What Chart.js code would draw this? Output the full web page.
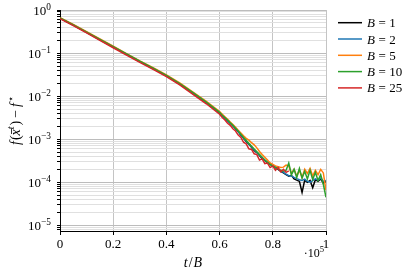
<!DOCTYPE html>
<html>
<head>
<meta charset="utf-8">
<script src="https://cdn.jsdelivr.net/npm/chart.js@4.4.0/dist/chart.umd.min.js"></script>
<style>
  html, body { margin: 0; padding: 0; background: #fff; }
  #c { display: block; }
</style>
</head>
<body>
<canvas id="c" width="415" height="275"></canvas>
<script>
// t/B in units of 1e5 (axis shows the x10^5 factor separately)
const tHead = [0, 0.05, 0.1, 0.15, 0.2, 0.25, 0.3, 0.35, 0.4, 0.45, 0.5, 0.55, 0.6];
const tTail = [0.61, 0.62, 0.63, 0.64, 0.65, 0.66, 0.67, 0.68, 0.69, 0.70,
               0.71, 0.72, 0.73, 0.74, 0.75, 0.76, 0.77, 0.78, 0.79, 0.80,
               0.81, 0.82, 0.83, 0.84, 0.85, 0.86, 0.87, 0.88, 0.89, 0.90,
               0.91, 0.92, 0.93, 0.94, 0.95, 0.96, 0.97, 0.98, 0.99, 1.00];

const batchSizes = [1, 2, 5, 10, 25];
const colors = ['#000000', '#1f77b4', '#ff7f0e', '#2ca02c', '#d62728'];

// f(x_t) - f*, smooth part
const b1Head  = [0.645, 0.445, 0.302, 0.204, 0.138, 0.0935, 0.0631, 0.0436, 0.0295, 0.0191, 0.0117, 0.00708, 0.00407];
const b2Head  = [0.648, 0.448, 0.304, 0.206, 0.140, 0.0945, 0.0638, 0.0441, 0.0299, 0.0194, 0.0119, 0.00720, 0.00412];
const b5Head  = [0.665, 0.460, 0.313, 0.212, 0.144, 0.0975, 0.0660, 0.0457, 0.0311, 0.0202, 0.0124, 0.00755, 0.00437];
const b10Head = [0.652, 0.451, 0.306, 0.207, 0.141, 0.0955, 0.0645, 0.0446, 0.0302, 0.0196, 0.0120, 0.00728, 0.00420];
const b25Head = [0.628, 0.433, 0.293, 0.197, 0.133, 0.0900, 0.0606, 0.0418, 0.0283, 0.0183, 0.0110, 0.00665, 0.00380];

// noisy tail
const b1Tail = [3.5e-3, 3.1e-3, 2.7e-3, 2.35e-3, 2.05e-3, 1.75e-3, 1.5e-3, 1.23e-3, 1.05e-3, 8.9e-4,
                7.6e-4, 6.5e-4, 5.5e-4, 4.9e-4, 4.2e-4, 3.6e-4, 3.2e-4, 2.8e-4, 2.6e-4, 2.4e-4,
                2.2e-4, 2.0e-4, 1.8e-4, 1.65e-4, 1.5e-4, 1.38e-4, 1.45e-4, 1.2e-4, 1.12e-4, 1.05e-4,
                5.8e-5, 1.12e-4, 1.0e-4, 1.1e-4, 7.5e-5, 1.15e-4, 1.05e-4, 1.2e-4, 9.5e-5, 1.05e-4];
const b2Tail = [3.5e-3, 3.1e-3, 2.7e-3, 2.35e-3, 2.05e-3, 1.78e-3, 1.52e-3, 1.26e-3, 1.08e-3, 9.1e-4,
                7.8e-4, 6.7e-4, 5.7e-4, 5.0e-4, 4.3e-4, 3.7e-4, 3.3e-4, 2.9e-4, 2.65e-4, 2.45e-4,
                2.25e-4, 2.05e-4, 1.85e-4, 1.7e-4, 1.55e-4, 1.42e-4, 1.4e-4, 1.3e-4, 1.22e-4, 1.15e-4,
                1.1e-4, 1.18e-4, 1.05e-4, 1.0e-4, 1.1e-4, 1.2e-4, 1.12e-4, 1.25e-4, 1.05e-4, 1.1e-4];
const b5Tail = [3.8e-3, 3.3e-3, 2.9e-3, 2.5e-3, 2.2e-3, 1.9e-3, 1.62e-3, 1.4e-3, 1.2e-3, 1.05e-3,
                9.5e-4, 8.3e-4, 7.4e-4, 6.3e-4, 5.2e-4, 4.4e-4, 3.8e-4, 3.3e-4, 2.8e-4, 2.6e-4,
                2.4e-4, 2.3e-4, 2.2e-4, 2.25e-4, 2.5e-4, 2.4e-4, 1.6e-4, 2.0e-4, 1.4e-4, 1.9e-4,
                1.3e-4, 2.0e-4, 1.6e-4, 2.1e-4, 1.4e-4, 1.9e-4, 1.5e-4, 2.0e-4, 1.65e-4, 6.5e-5];
const b10Tail = [3.6e-3, 3.2e-3, 2.8e-3, 2.4e-3, 2.1e-3, 1.8e-3, 1.55e-3, 1.3e-3, 1.1e-3, 9.4e-4,
                 8.0e-4, 6.9e-4, 5.9e-4, 5.1e-4, 4.4e-4, 3.8e-4, 3.3e-4, 2.9e-4, 2.6e-4, 2.35e-4,
                 2.2e-4, 2.05e-4, 1.9e-4, 1.8e-4, 1.9e-4, 2.8e-4, 1.5e-4, 2.0e-4, 1.3e-4, 2.1e-4,
                 1.25e-4, 1.8e-4, 1.2e-4, 1.9e-4, 1.15e-4, 1.7e-4, 1.1e-4, 1.5e-4, 9.0e-5, 4.5e-5];
const b25Tail = [3.2e-3, 2.8e-3, 2.35e-3, 2.1e-3, 1.75e-3, 1.55e-3, 1.25e-3, 1.1e-3, 8.5e-4, 7.8e-4,
                 6.0e-4, 5.8e-4, 4.6e-4, 4.4e-4, 3.3e-4, 3.5e-4, 2.7e-4, 2.8e-4, 2.2e-4, 2.4e-4,
                 1.9e-4, 2.2e-4, 1.75e-4, 2.0e-4, 1.7e-4, 1.85e-4];

const heads = [b1Head, b2Head, b5Head, b10Head, b25Head];
const tails = [b1Tail, b2Tail, b5Tail, b10Tail, b25Tail];

const xTicks = [0, 0.2, 0.4, 0.6, 0.8, 1];
const yDecades = [-5, -4, -3, -2, -1, 0];
const yMin = 7.4e-6, yMax = 1;

const SERIF = '"Liberation Serif", "DejaVu Serif", serif';

function toPoints(head, tail) {
    const pts = head.map((v, i) => ({ x: tHead[i], y: v }));
    tail.forEach((v, i) => pts.push({ x: tTail[i], y: v }));
    return pts;
}

// log ticks like matplotlib: 1..9 x 10^n, major at 10^n
function buildLogTicks() {
    const ticks = [];
    for (let e = -6; e <= 0; e++) {
        for (let m = 1; m <= 9; m++) {
            const v = m * Math.pow(10, e);
            if (v >= yMin && v <= yMax * 1.0001) ticks.push({ value: v, major: m === 1 });
        }
    }
    return ticks;
}

// text pieces: {t, it, sup, bar, gap}
function pieceFont(p, size) {
    const s = p.sup ? size * 0.72 : size;
    return (p.it ? 'italic ' : '') + s + 'px ' + SERIF;
}

function richWidth(ctx, parts, size) {
    let w = 0;
    parts.forEach(p => {
        ctx.font = pieceFont(p, size);
        w += ctx.measureText(p.t).width + (p.gap || 0);
    });
    return w;
}

function drawRich(ctx, parts, x, y, size) {
    let cx = x;
    parts.forEach(p => {
        ctx.font = pieceFont(p, size);
        const dy = p.sup ? -size * 0.42 : 0;
        ctx.fillText(p.t, cx, y + dy);
        const w = ctx.measureText(p.t).width;
        if (p.bar) ctx.fillRect(cx + 1.5, y - size * 0.64, w - 1, 0.8);
        cx += w + (p.gap || 0);
    });
}

const textPlugin = {
    id: 'texts',
    afterDraw(chart) {
        const ctx = chart.ctx;
        const area = chart.chartArea;
        const ys = chart.scales.y;
        ctx.save();
        ctx.fillStyle = '#000';
        ctx.textBaseline = 'alphabetic';
        ctx.textAlign = 'left';

        // y tick labels 10^n
        yDecades.forEach(d => {
            const py = ys.getPixelForValue(Math.pow(10, d));
            const parts = [{ t: '10' }, { t: d === 0 ? '0' : '\u2212' + (-d), sup: true }];
            const w = richWidth(ctx, parts, 13);
            drawRich(ctx, parts, 51 - w, py + 5, 13);
        });

        // y title
        const yt = [{ t: 'f', it: true, gap: 1 }, { t: '(' }, { t: 'x', it: true, bar: true },
                    { t: 't', it: true, sup: true, gap: 1 }, { t: ')', gap: 3 }, { t: '\u2212', gap: 3 },
                    { t: 'f', it: true, gap: 1 }, { t: '\u22c6', sup: true }];
        ctx.save();
        ctx.translate(20, (area.top + area.bottom) / 2);
        ctx.rotate(-Math.PI / 2);
        const wy = richWidth(ctx, yt, 14);
        drawRich(ctx, yt, -wy / 2, 0, 14);
        ctx.restore();

        // x title
        const xt = [{ t: 't', it: true, gap: 1 }, { t: '/', gap: 1 }, { t: 'B', it: true }];
        const wx = richWidth(ctx, xt, 14);
        drawRich(ctx, xt, (area.left + area.right) / 2 - wx / 2, 267, 14);

        // offset text
        const off = [{ t: '\u00b710' }, { t: '5', sup: true }];
        const wo = richWidth(ctx, off, 12);
        drawRich(ctx, off, area.right - wo - 2, 257, 12);

        // legend
        batchSizes.forEach((b, i) => {
            const ry = 22.7 + i * 16.3;
            ctx.strokeStyle = colors[i];
            ctx.lineWidth = 1.5;
            ctx.beginPath();
            ctx.moveTo(338, ry);
            ctx.lineTo(362, ry);
            ctx.stroke();
            drawRich(ctx, [{ t: 'B', it: true, gap: 3.5 }, { t: '=', gap: 3.5 }, { t: String(b) }], 367, ry + 4.5, 13);
        });
        ctx.restore();
    }
};

new Chart(document.getElementById('c'), {
    type: 'line',
    data: {
        datasets: batchSizes.map((b, i) => ({
            label: 'B = ' + b,
            data: toPoints(heads[i], tails[i]),
            borderColor: colors[i],
            backgroundColor: colors[i],
            borderWidth: 1.5,
            pointRadius: 0,
            tension: 0,
            fill: false,
            order: batchSizes.length - i   // later series drawn on top
        }))
    },
    options: {
        responsive: false,
        animation: false,
        layout: { padding: { left: 0, top: 10, right: 89, bottom: 0 } },
        plugins: { legend: { display: false }, tooltip: { enabled: false } },
        scales: {
            x: {
                type: 'linear',
                min: 0,
                max: 1,
                afterBuildTicks: s => { s.ticks = xTicks.map(v => ({ value: v })); },
                ticks: {
                    color: '#000',
                    font: { family: SERIF, size: 13 },
                    padding: 2,
                    maxRotation: 0,
                    autoSkip: false,
                    callback: v => String(+(+v).toFixed(1))
                },
                grid: { color: '#c4c4c4', tickColor: '#000', tickLength: 4, lineWidth: 1 },
                border: { color: '#000', width: 1 },
                afterFit: s => { s.height = 44; }
            },
            y: {
                type: 'logarithmic',
                min: yMin,
                max: yMax,
                afterBuildTicks: s => { s.ticks = buildLogTicks(); },
                ticks: { display: false, autoSkip: false },
                grid: {
                    color: c => (c.tick && c.tick.major) ? '#bcbcbc' : '#e0e0e0',
                    tickColor: '#000',
                    tickLength: 3,
                    lineWidth: 1
                },
                border: { color: '#000', width: 1 },
                afterFit: s => { s.width = 60; }
            }
        }
    },
    plugins: [textPlugin]
});
</script>
</body>
</html>
